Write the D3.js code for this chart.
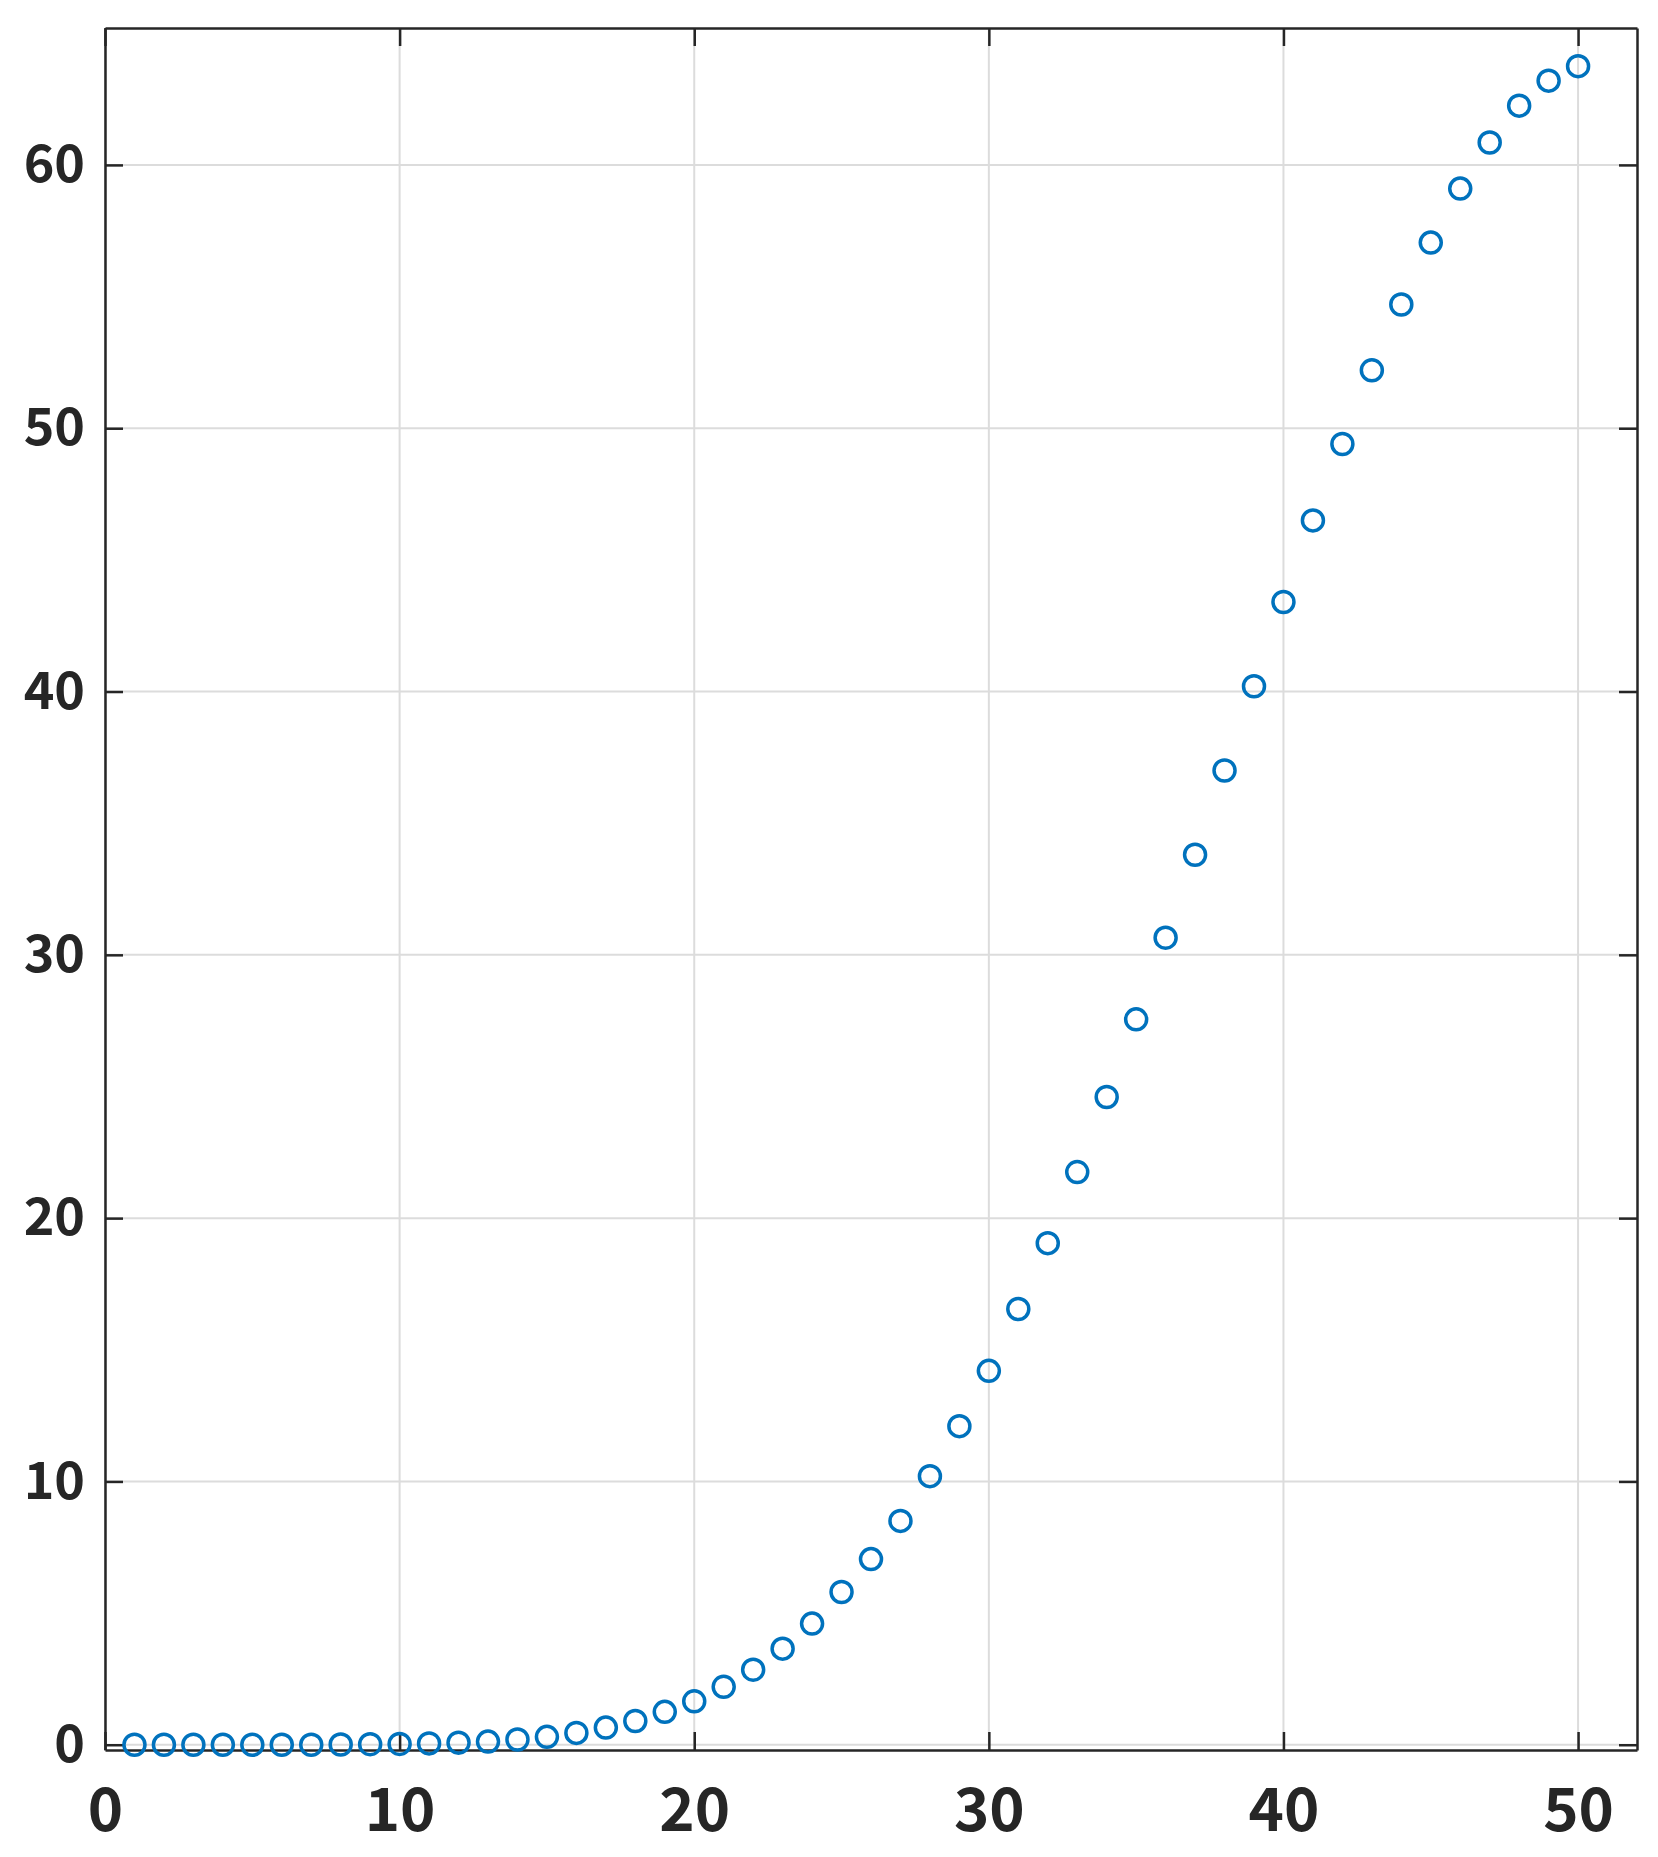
<!DOCTYPE html>
<html><head><meta charset="utf-8">
<script src="https://cdn.jsdelivr.net/npm/d3@7"></script>
<style>body{margin:0;background:#fff}</style></head>
<body><svg id="c" width="1658" height="1857"></svg>
<script>
var xs = d3.range(1, 51);
var ys = [0,0,0,0,0,0,0,0.01,0.02,0.03,0.05,0.08,0.12,0.2,0.3,0.45,0.65,0.9,1.25,1.65,
  2.2,2.85,3.65,4.6,5.8,7.05,8.5,10.2,12.1,14.2,16.55,19.05,21.75,24.6,27.55,30.65,33.8,37.0,40.2,43.4,
  46.5,49.4,52.2,54.7,57.05,59.1,60.85,62.25,63.2,63.75];
var xTicks = [0,10,20,30,40,50];
var yTicks = [0,10,20,30,40,50,60];

var L = 105, R = 1637, T = 28, B = 1750;
var svg = d3.select("#c");
var x = d3.scaleLinear().domain([0, 52]).range([L, R]);
var y = d3.scaleLinear().domain([-0.2, 65.2]).range([B, T]);
var font = "'Noto Sans CJK JP', 'DejaVu Sans', sans-serif";

// grid
svg.append("g").selectAll("line").data(xTicks).join("line")
  .attr("x1", d => x(d)).attr("x2", d => x(d)).attr("y1", T).attr("y2", B)
  .attr("stroke", "#dcdcdc").attr("stroke-width", 2);
svg.append("g").selectAll("line").data(yTicks).join("line")
  .attr("y1", d => y(d)).attr("y2", d => y(d)).attr("x1", L).attr("x2", R)
  .attr("stroke", "#dcdcdc").attr("stroke-width", 2);

// axes
var ax = svg.append("g").attr("transform", "translate(0," + B + ")")
  .call(d3.axisBottom(x).tickValues(xTicks).tickSize(-18).tickPadding(38).tickSizeOuter(0));
var ax2 = svg.append("g").attr("transform", "translate(0," + T + ")")
  .call(d3.axisTop(x).tickValues(xTicks).tickSize(-18).tickFormat("").tickSizeOuter(0));
var ay = svg.append("g").attr("transform", "translate(" + L + ",0)")
  .call(d3.axisLeft(y).tickValues(yTicks).tickSize(-18).tickPadding(20).tickSizeOuter(0));
var ay2 = svg.append("g").attr("transform", "translate(" + R + ",0)")
  .call(d3.axisRight(y).tickValues(yTicks).tickSize(-18).tickFormat("").tickSizeOuter(0));
[ax, ax2, ay, ay2].forEach(function (g) {
  g.selectAll("path,line").attr("stroke", "#262626").attr("stroke-width", 2.5);
  g.selectAll("text").attr("fill", "#262626").style("font-family", font)
    .style("font-weight", "bold");
});
ay.selectAll("text").style("font-size", "52px");
ax.selectAll("text").style("font-size", "60px").attr("dy", "0.71em");

// points
svg.append("g").selectAll("circle").data(xs).join("circle")
  .attr("cx", d => x(d)).attr("cy", (d, i) => y(ys[i])).attr("r", 10.5)
  .attr("fill", "none").attr("stroke", "#0072BD").attr("stroke-width", 3.5);
</script></body></html>
